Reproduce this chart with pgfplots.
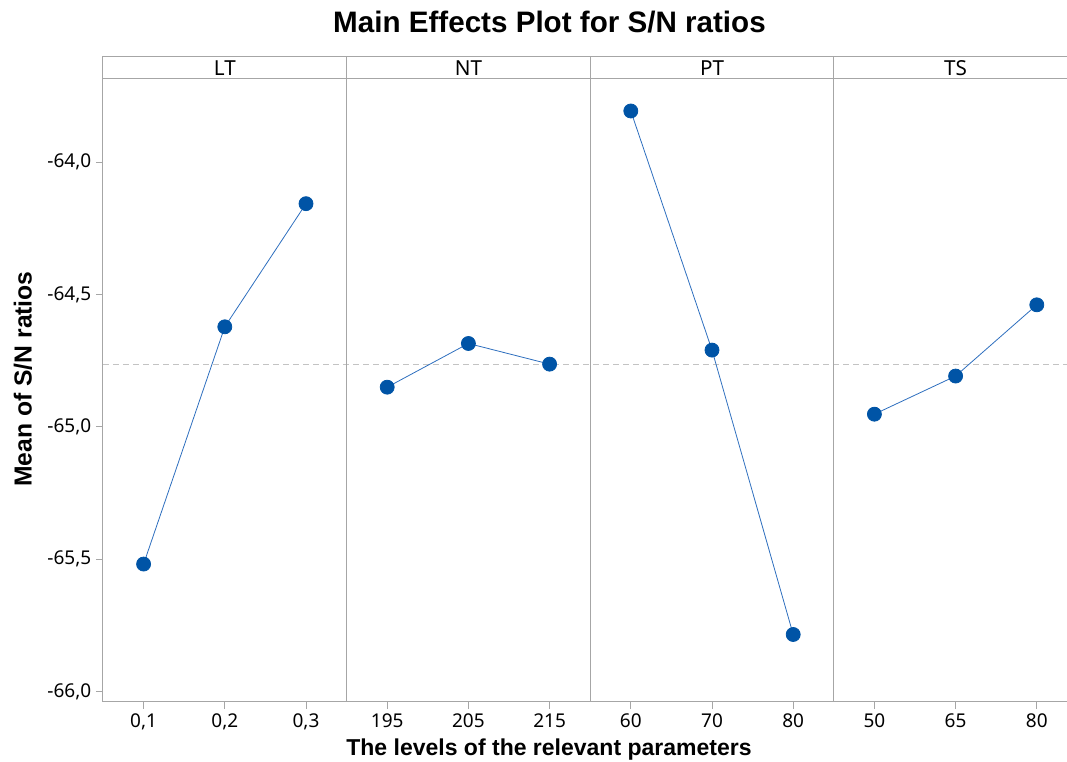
\documentclass[border=0pt]{standalone}
\usepackage{pgfplots}
\pgfplotsset{compat=1.18}
\usepackage{fontspec}
\setmainfont{Noto Sans}
\newfontfamily\arialf{Liberation Sans}
\definecolor{markblue}{RGB}{0,84,166}
\definecolor{lineblue}{RGB}{45,110,190}
\definecolor{framegray}{RGB}{166,166,166}
\definecolor{meangray}{RGB}{195,195,195}
\newcommand{\PX}[2]{({(#1-103)*0.75pt},{(701.7-#2)*0.75pt})}
\pgfplotsset{meseries/.style={color=lineblue, line width=0.6pt, mark=*, mark size=5.25pt, mark options={fill=markblue, draw=markblue, solid}}}
\begin{document}
\begin{tikzpicture}
\begin{axis}[
  at={(0,0)}, anchor=south west,
  scale only axis, width=730.8pt, height=467.25pt,
  xmin=0.5, xmax=12.5, ymin=-66.0378, ymax=-63.685,
  clip=false,
  axis line style={framegray, line width=0.75pt},
  tick style={framegray, line width=0.75pt},
  tick align=outside, tick pos=left,
  major tick length=5.25pt,
  xtick={1,2,3,4,5,6,7,8,9,10,11,12},
  xticklabels={{0,1},{0,2},{0,3},195,205,215,60,70,80,50,65,80},
  ytick={-66,-65.5,-65,-64.5,-64},
  yticklabels={{-66,0},{-65,5},{-65,0},{-64,5},{-64,0}},
  tick label style={font=\fontsize{14.25}{16}\selectfont},
]
\addplot[meangray, line width=0.75pt, dash pattern=on 4.5pt off 3pt] coordinates {(0.5,-64.766) (12.5,-64.766)};
\addplot[meseries] coordinates {(1,-65.518) (2,-64.622) (3,-64.157)};
\addplot[meseries] coordinates {(4,-64.850) (5,-64.685) (6,-64.763)};
\addplot[meseries] coordinates {(7,-63.807) (8,-64.710) (9,-65.784)};
\addplot[meseries] coordinates {(10,-64.952) (11,-64.808) (12,-64.539)};
\draw[framegray, line width=0.75pt] (axis cs:0.5,-63.685) rectangle (axis cs:12.5,-63.603);
\draw[framegray, line width=0.75pt] (axis cs:3.5,-66.0378) -- (axis cs:3.5,-63.603);
\draw[framegray, line width=0.75pt] (axis cs:6.5,-66.0378) -- (axis cs:6.5,-63.603);
\draw[framegray, line width=0.75pt] (axis cs:9.5,-66.0378) -- (axis cs:9.5,-63.603);
\node[font=\fontsize{15.5}{17}\selectfont] at (axis cs:2,-63.644) {LT};
\node[font=\fontsize{15.5}{17}\selectfont] at (axis cs:5,-63.644) {NT};
\node[font=\fontsize{15.5}{17}\selectfont] at (axis cs:8,-63.644) {PT};
\node[font=\fontsize{15.5}{17}\selectfont] at (axis cs:11,-63.644) {TS};
\end{axis}
\node[font=\arialf\bfseries\fontsize{22.2}{26}\selectfont] at \PX{549.5}{22} {Main Effects Plot for S/N ratios};
\node[font=\arialf\bfseries\fontsize{17.25}{20}\selectfont] at \PX{549}{750} {The levels of the relevant parameters};
\node[font=\arialf\bfseries\fontsize{18.5}{22}\selectfont, rotate=90] at \PX{23}{379} {Mean of S/N ratios};
\pgfresetboundingbox
\useasboundingbox (-77.25pt,-45.225pt) rectangle (723pt,526.275pt);
\end{tikzpicture}
\end{document}
